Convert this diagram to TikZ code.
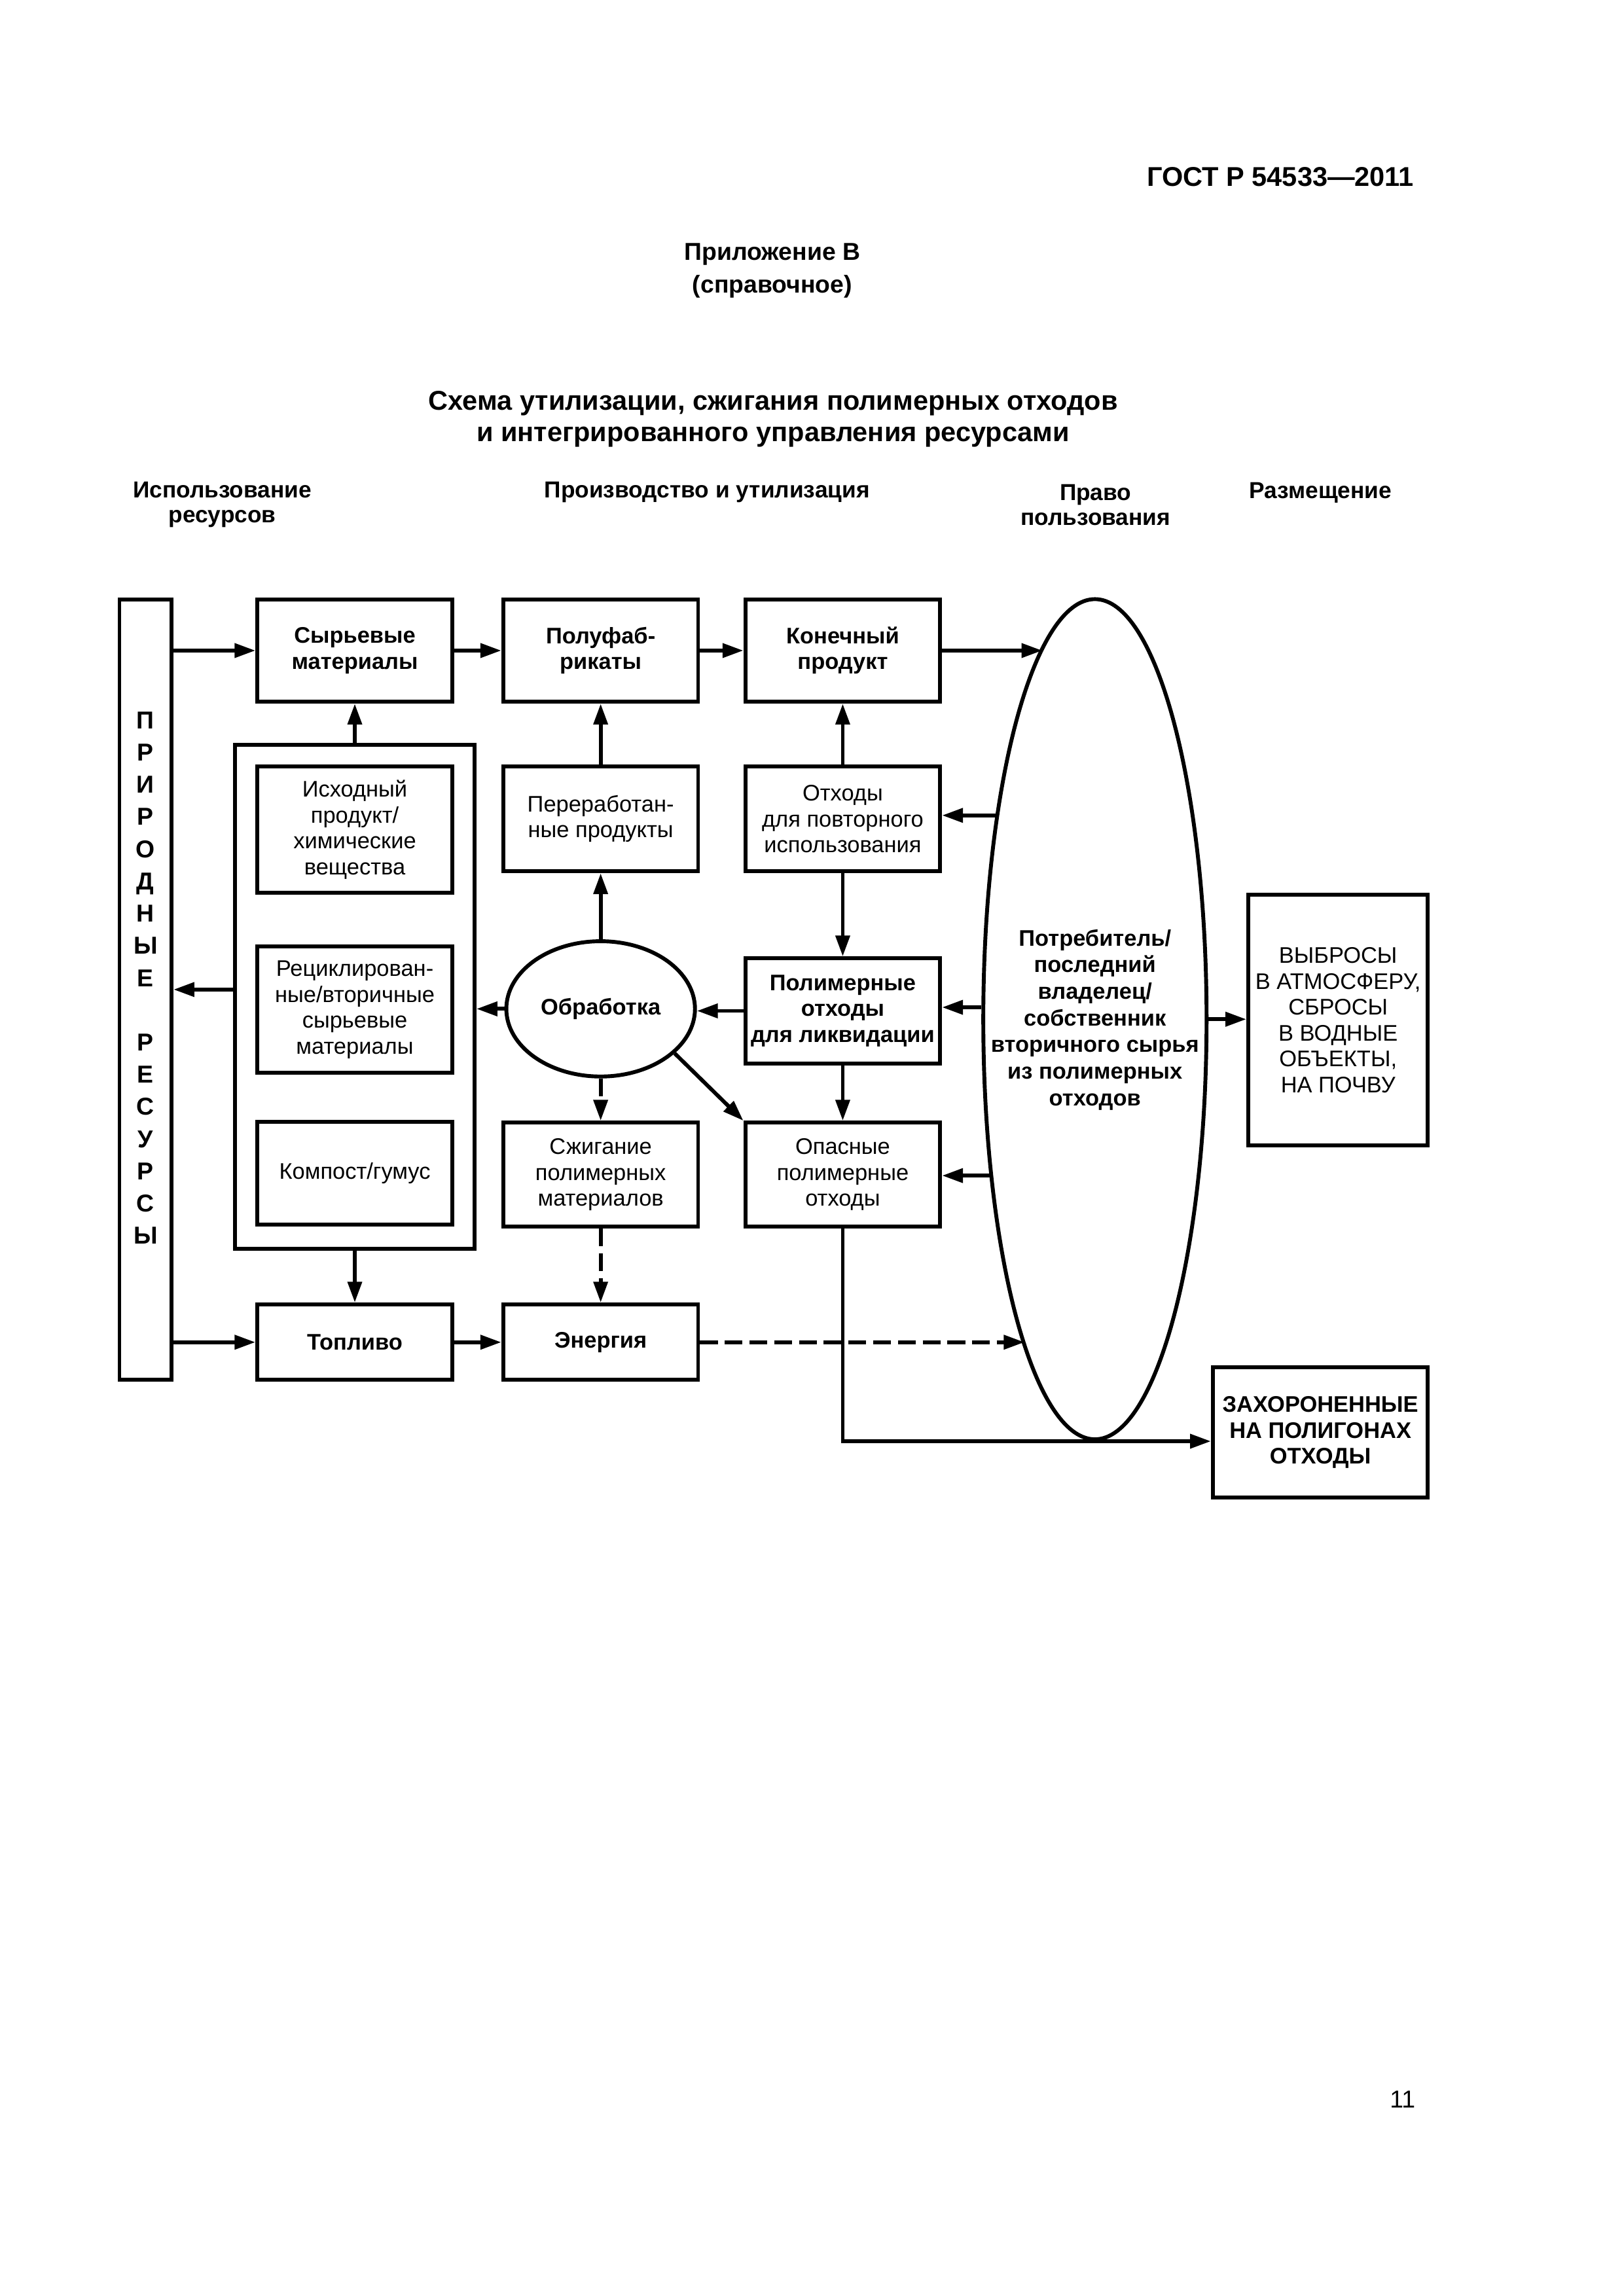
\documentclass[tikz,border=0pt]{standalone}
\usepackage{fontspec}
\setmainfont{Liberation Sans}
\usepackage{tikz}
\usetikzlibrary{shapes.geometric}
\usetikzlibrary{arrows.meta}

\begin{document}
\begin{tikzpicture}[x=1mm, y=1mm,
  font=\fontsize{8.3}{9.5}\selectfont,
  blk/.style={draw, line width=0.5mm, inner sep=0pt, align=center,
    minimum width=25.2mm},
  bblk/.style={blk, font=\fontsize{8.3}{9.5}\selectfont\bfseries},
  oval/.style={draw, ellipse, line width=0.5mm, inner sep=0pt, align=center},
  arr/.style={line width=0.5mm, -{Triangle[length=2.7mm, width=1.8mm]}},
  darr/.style={arr, dash pattern=on 2.3mm off 0.9mm},
  head/.style={font=\fontsize{8.5}{9.2}\selectfont\bfseries, align=center}]
  \useasboundingbox (0,0) rectangle (210,-297);

  % page head
  \node[anchor=east, font=\fontsize{10}{12}\selectfont\bfseries] (gost) at (184.1,-22.9) {ГОСТ Р 54533—2011};
  \node[align=center, font=\fontsize{9}{11.9}\selectfont\bfseries] (annex) at (99.9,-35) {Приложение В\\(справочное)};
  \node[align=center, font=\fontsize{10}{11.4}\selectfont\bfseries] (title) at (100,-54.2)
    {Схема утилизации, сжигания полимерных отходов\\и интегрированного управления ресурсами};
  \node[head] (h1) at (28.75,-65.3) {Использование\\ресурсов};
  \node[head] (h2) at (91.45,-63.7) {Производство и утилизация};
  \node[head] (h3) at (141.7,-65.3) {Право\\пользования};
  \node[head] (h4) at (170.8,-63.7) {Размещение};

  % natural resources
  \node[blk, minimum width=6.74mm, minimum height=100.97mm] (res) at (18.82,-128.0) {};
  \node[align=center, font=\fontsize{9}{11.86}\selectfont\bfseries] (restxt) at (18.82,-126.5)
    {П\\Р\\И\\Р\\О\\Д\\Н\\Ы\\Е\\[11.86pt]Р\\Е\\С\\У\\Р\\С\\Ы};

  % first column
  \node[bblk, minimum height=13.24mm] (raw) at (45.89,-84.15) {Сырьевые\\материалы};
  \node[blk, minimum width=30.97mm, minimum height=65.2mm] (grp) at (45.89,-128.96) {};
  \node[blk, minimum height=16.31mm] (feed) at (45.89,-107.31) {Исходный\\продукт/\\химические\\вещества};
  \node[blk, minimum height=16.34mm] (recyc) at (45.89,-130.6) {Рециклирован-\\ные/вторичные\\сырьевые\\материалы};
  \node[blk, minimum height=13.34mm] (comp) at (45.89,-151.76) {Компост/гумус};
  \node[bblk, minimum height=9.76mm] (fuel) at (45.89,-173.62) {Топливо};

  % second column
  \node[bblk, minimum height=13.24mm] (semi) at (77.69,-84.15) {Полуфаб-\\рикаты};
  \node[blk, minimum height=13.55mm] (proc) at (77.69,-105.93) {Переработан-\\ные продукты};
  \node[oval, font=\fontsize{8.3}{9.5}\selectfont\bfseries, minimum width=24.4mm, minimum height=17.5mm]
    (treat) at (77.69,-130.5) {Обработка};
  \node[blk, minimum height=13.46mm] (burn) at (77.69,-151.95) {Сжигание\\полимерных\\материалов};
  \node[bblk, minimum height=9.76mm] (energy) at (77.69,-173.62) {Энергия};

  % third column
  \node[bblk, minimum height=13.24mm] (final) at (109.0,-84.15) {Конечный\\продукт};
  \node[blk, minimum height=13.55mm] (reuse) at (109.0,-105.93) {Отходы\\для повторного\\использования};
  \node[bblk, minimum height=13.58mm] (disp) at (109.0,-130.76) {Полимерные\\отходы\\для ликвидации};
  \node[blk, minimum height=13.46mm] (haz) at (109.0,-151.95) {Опасные\\полимерные\\отходы};

  % owner and placement
  \node[oval, minimum width=28.88mm, minimum height=108.68mm] (owner) at (141.62,-131.84) {};
  \node[align=center, font=\fontsize{8.3}{9.8}\selectfont\bfseries] (ownertxt) at (141.62,-131.9)
    {Потребитель/\\последний\\владелец/\\собственник\\вторичного сырья\\из полимерных\\отходов};
  \node[blk, minimum width=23.23mm, minimum height=32.4mm] (emis) at (173.07,-131.95)
    {ВЫБРОСЫ\\В АТМОСФЕРУ,\\СБРОСЫ\\В ВОДНЫЕ\\ОБЪЕКТЫ,\\НА ПОЧВУ};
  \node[bblk, minimum width=27.81mm, minimum height=16.89mm] (fill) at (170.78,-185.3)
    {ЗАХОРОНЕННЫЕ\\НА ПОЛИГОНАХ\\ОТХОДЫ};

  \node[anchor=east, font=\fontsize{9}{11}\selectfont] (page) at (184.3,-271.6) {11};

  % connectors
  \draw[arr] (res.east |- raw) -- (raw.west);
  \draw[arr] (res.east |- fuel) -- (fuel.west);
  \draw[arr] (grp.west |- res) -- (res.east);
  \draw[arr] (grp.north) -- (raw.south);
  \draw[arr] (grp.south) -- (fuel.north);
  \draw[arr] (raw.east) -- (semi.west);
  \draw[arr] (semi.east) -- (final.west);
  \draw[arr] (final.east) -- (final.east -| owner.98);
  \draw[arr] (fuel.east) -- (energy.west);
  \draw[arr] (proc.north) -- (semi.south);
  \draw[arr] (treat.north) -- (proc.south);
  \draw[arr] (reuse.north) -- (final.south);
  \draw[arr] (reuse.south) -- (disp.north);
  \draw[arr] (disp.south) -- (haz.north);
  \draw[arr] (disp.west) -- (disp.west -| treat.east);
  \draw[arr] (treat.west) -- (treat.west -| grp.east);
  \draw[darr] (treat.south) -- (burn.north);
  \draw[darr] (burn.south) -- (energy.north);
  \draw[arr] (treat.329) -- (haz.north west);
  \draw[arr] (owner.116) -- (owner.116 -| reuse.east);
  \draw[arr] (owner.174) -- (owner.174 -| disp.east);
  \draw[arr] (owner.236) -- (owner.236 -| haz.east);
  \draw[darr] (energy.east) -- (energy.east -| owner.258);
  \draw[arr] (owner.east) -- (owner.east -| emis.west);
  \draw[arr] (haz.south) |- (owner.south -| fill.west);
\end{tikzpicture}
\end{document}
